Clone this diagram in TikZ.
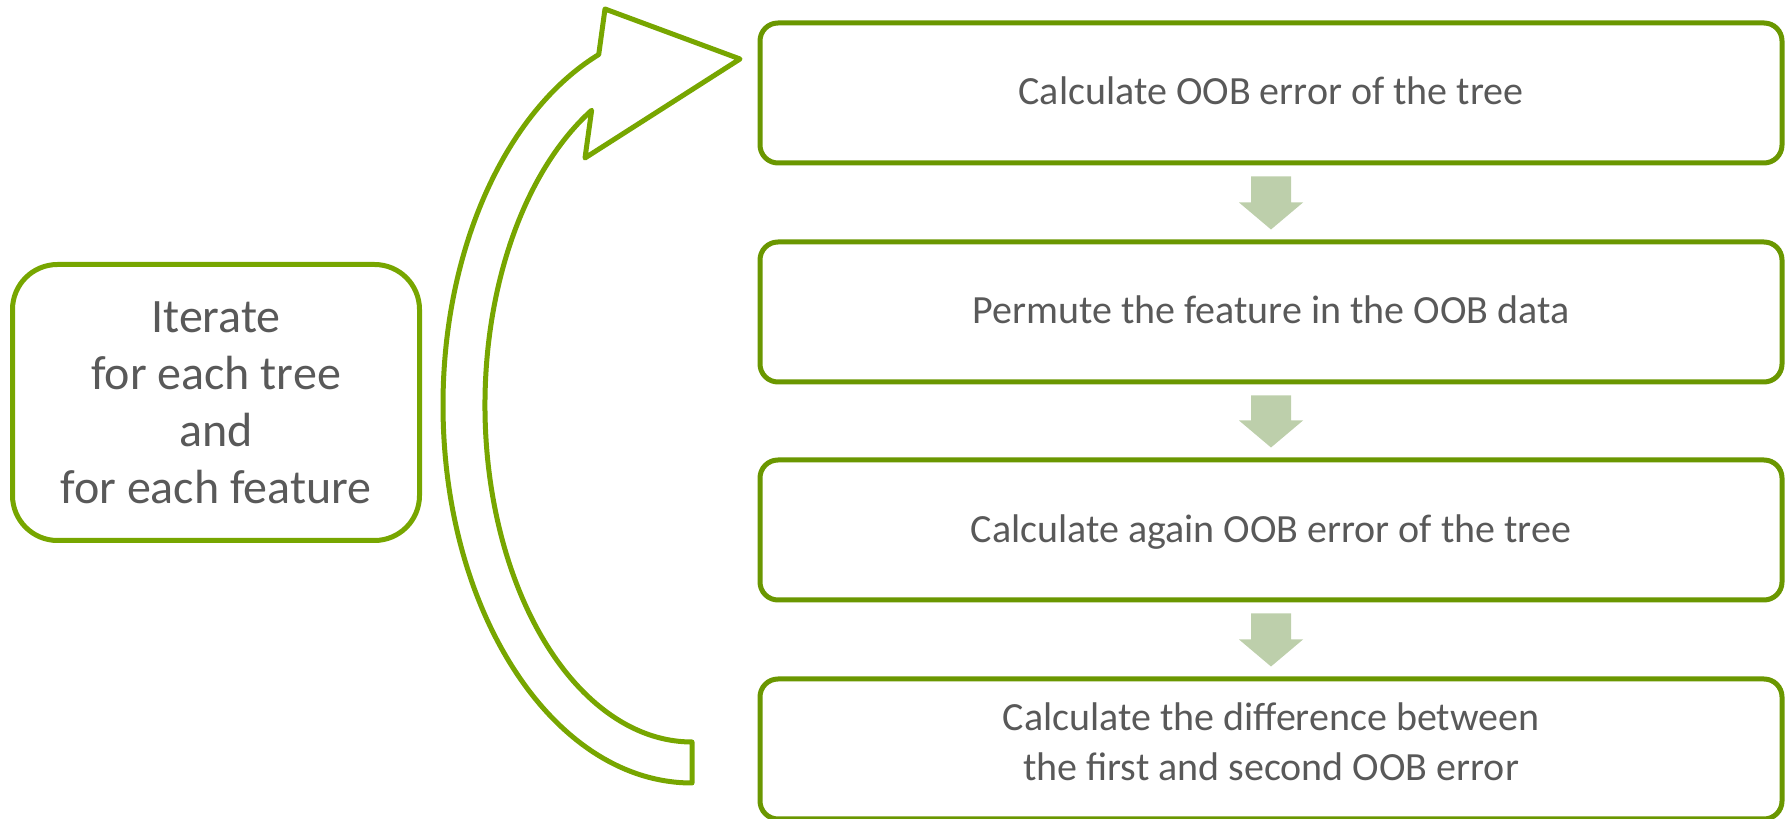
\documentclass[tikz,border=0pt]{standalone}
\usepackage{fontspec}
\setmainfont{Carlito}
\usetikzlibrary{calc}
\definecolor{boxgreen}{HTML}{6A9700}
\definecolor{loopgreen}{HTML}{77A600}
\definecolor{stepfill}{HTML}{BDCFAB}
\definecolor{textgrey}{HTML}{595959}
\begin{document}
\begin{tikzpicture}[x=1pt, y=1pt,
    box/.style={draw=boxgreen, line width=5pt, rounded corners=18pt,
      minimum width=1022pt, minimum height=140pt},
    boxtext/.style={text=textgrey, font=\fontsize{40}{50}\selectfont, align=center},
    steparrow/.style={fill=stepfill}]
  \useasboundingbox (0,0) rectangle (1791,819);
  \foreach \n/\y/\dy/\txt in {1/726/2/{Calculate OOB error of the tree},
      2/507/2/{Permute the feature in the OOB data},
      3/289/-2/{Calculate again OOB error of the tree},
      4/70/7/{Calculate the difference between\\the first and second OOB error}} {
    \node[box] (b\n) at (1271,\y) {};
    \node[boxtext] (t\n) at ([yshift=\dy pt]b\n.center) {\txt};
  }
  \foreach \a/\b in {b1/b2, b2/b3, b3/b4}
    \fill[steparrow] ($(\a.south)+(-20,-11)$) -- ++(40,0) -- ($(\b.north)+(20,37)$)
      -- ++(12,0) -- ($(\b.north)+(0,10)$) -- ($(\b.north)+(-32,37)$) -- ++(12,0) -- cycle;
  \node[draw=loopgreen, line width=5pt, rounded corners=45pt, minimum width=407pt,
    minimum height=276pt, text=textgrey, font=\fontsize{48}{57}\selectfont,
    align=center] (iter) at (216,416.5) {Iterate\\for each tree\\and\\for each feature};
  \coordinate (loop) at (692,414);
  \draw[loopgreen, line width=5pt, line join=round, fill=white]
    ($(loop)+(0,-378)$) arc[start angle=270, end angle=112, x radius=249, y radius=378]
    -- (605,810) -- (740,760) -- (585,661)
    -- ($(loop)+({207*cos(119)},{337*sin(119)})$)
    arc[start angle=119, end angle=270, x radius=207, y radius=337] -- cycle;
\end{tikzpicture}
\end{document}
